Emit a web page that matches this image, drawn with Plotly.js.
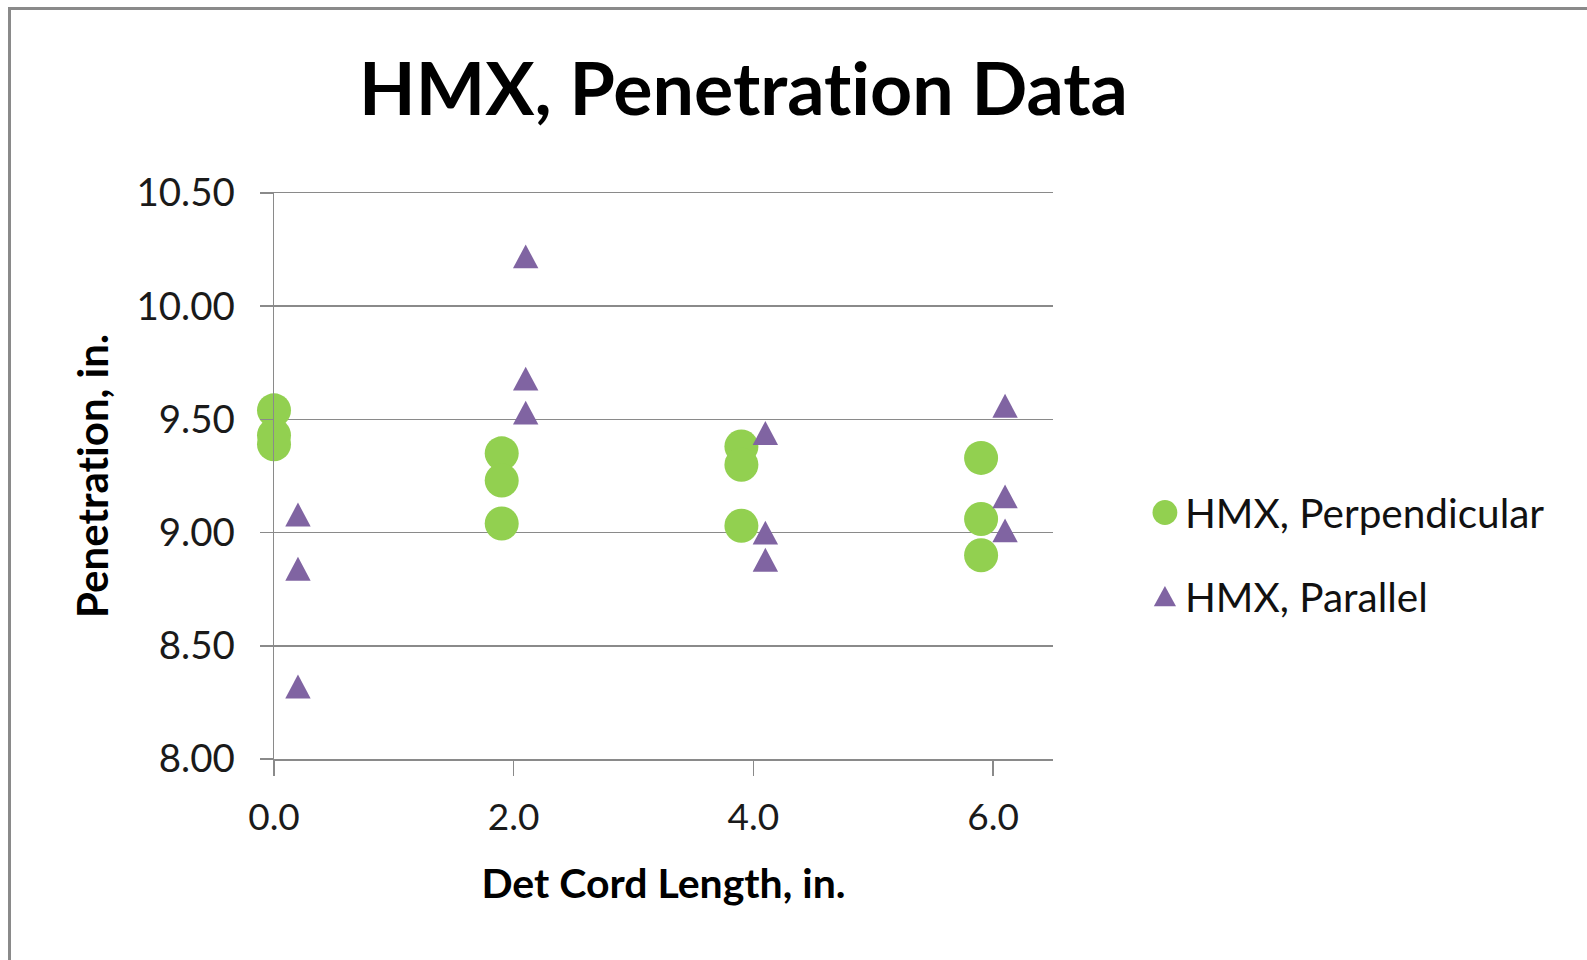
<!DOCTYPE html>
<html>
<head>
<meta charset="utf-8">
<script src="https://cdn.plot.ly/plotly-3.0.1.min.js"></script>
<style>
  html, body { margin: 0; padding: 0; background: #fff; overflow: hidden; }
  #chart { width: 1587px; height: 960px; }
  #chart svg text { font-variant-ligatures: none; font-feature-settings: "liga" 0; }
  .frame {
    position: absolute; left: 8px; top: 7px; width: 1700px; height: 1100px;
    border-left: 3px solid #8a8a8a; border-top: 3px solid #8a8a8a;
    pointer-events: none;
  }
</style>
</head>
<body>
<div id="chart"></div>
<div class="frame"></div>
<script>
// Penetration (in.) versus det cord length (in.), three shots per length.
// Perpendicular shots sit just left of each length, parallel shots just right.
const perpLength = [0, 0, 0, 1.9, 1.9, 1.9, 3.9, 3.9, 3.9, 5.9, 5.9, 5.9];
const perpPenetration = [9.54, 9.43, 9.39, 9.35, 9.23, 9.04, 9.38, 9.30, 9.03, 9.33, 9.06, 8.90];

const paraLength = [0.2, 0.2, 0.2, 2.1, 2.1, 2.1, 4.1, 4.1, 4.1, 6.1, 6.1, 6.1];
const paraPenetration = [9.08, 8.84, 8.32, 10.22, 9.68, 9.53, 9.44, 9.00, 8.88, 9.56, 9.16, 9.01];

const seriesNames = ['HMX, Perpendicular', 'HMX, Parallel'];

const GRID = '#8a8a8a';
const FONT = 'Lato, "Open Sans", sans-serif';
const TRI_SIZE = 22;

const traces = [
  {
    type: 'scatter', mode: 'markers', name: seriesNames[0], legendgroup: 'perp',
    x: perpLength, y: perpPenetration,
    marker: { symbol: 'circle', size: 34, color: '#92D050' },
    cliponaxis: false, hoverinfo: 'x+y'
  },
  {
    type: 'scatter', mode: 'markers', name: seriesNames[1], legendgroup: 'para',
    x: paraLength, y: paraPenetration,
    marker: { symbol: 'triangle-up', size: TRI_SIZE, color: '#8064A2' },
    cliponaxis: false, hoverinfo: 'x+y'
  }
];

const layout = {
  width: 1587, height: 960,
  margin: { l: 274, r: 534, t: 193, b: 201 },
  paper_bgcolor: '#ffffff', plot_bgcolor: '#ffffff',
  font: { family: FONT, color: '#111111' },
  showlegend: true,
  title: {
    text: 'HMX, Penetration Data',
    font: { family: FONT, size: 73.5, weight: 'bold', color: '#000000' },
    xref: 'container', x: 0.4685, xanchor: 'center',
    yref: 'container', y: 1 - 89 / 960, yanchor: 'middle'
  },
  xaxis: {
    range: [0, 6.5], tick0: 0, dtick: 2, tickformat: '.1f',
    showgrid: false, zeroline: false,
    showline: true, mirror: true, linecolor: GRID, linewidth: 1.5,
    ticks: 'outside', ticklen: 15, tickwidth: 1.5, tickcolor: GRID,
    tickfont: { family: FONT, size: 37, color: '#1a1a1a' },
    ticklabelstandoff: 10,
    title: {
      text: 'Det Cord Length, in.', standoff: 32,
      font: { family: FONT, size: 41, weight: 'bold', color: '#000000' }
    },
    fixedrange: true
  },
  yaxis: {
    range: [8, 10.5], tick0: 8, dtick: 0.5, tickformat: '.2f',
    showgrid: true, gridcolor: GRID, gridwidth: 1.5, zeroline: false,
    showline: true, linecolor: GRID, linewidth: 1.5,
    ticks: 'outside', ticklen: 13, tickwidth: 1.5, tickcolor: GRID,
    tickfont: { family: FONT, size: 38.5, color: '#1a1a1a' },
    ticklabelstandoff: 17,
    title: {
      text: 'Penetration, in.', standoff: 14,
      font: { family: FONT, size: 42, weight: 'bold', color: '#000000' }
    },
    fixedrange: true
  },
  legend: {
    x: 1.118, xanchor: 'left', y: 0.361, yanchor: 'middle',
    font: { family: FONT, size: 40.5, color: '#111111' },
    tracegroupgap: 28, bgcolor: 'rgba(0,0,0,0)', borderwidth: 0
  }
};

// Stretch a triangle glyph to near-equilateral proportions, keeping its
// bounding box centred on the point it marks.
function reshapeTriangle(path, r, sx, sy) {
  const base = path.getAttribute('transform') || '';
  const dy = (r / 4) * sy;
  path.setAttribute('transform', base + ' translate(0,' + dy + ') scale(' + sx + ',' + sy + ')');
}

Plotly.newPlot('chart', traces, layout, { displayModeBar: false, staticPlot: true }).then(gd => {
  const layers = gd.querySelectorAll('.scatterlayer .trace');
  if (layers[1]) {
    layers[1].querySelectorAll('path.point').forEach(p => reshapeTriangle(p, TRI_SIZE / 2, 1, 1.45));
  }
  const legendTraces = gd.querySelectorAll('.legend .traces');
  legendTraces.forEach((g, i) => {
    g.querySelectorAll('.legendpoints path.scatterpts').forEach(p => {
      const base = p.getAttribute('transform') || '';
      if (i === 0) {
        p.setAttribute('transform', base + ' scale(1.55)');
      } else {
        reshapeTriangle(p, 8, 1.2, 1.7);
      }
    });
  });
});
</script>
</body>
</html>
